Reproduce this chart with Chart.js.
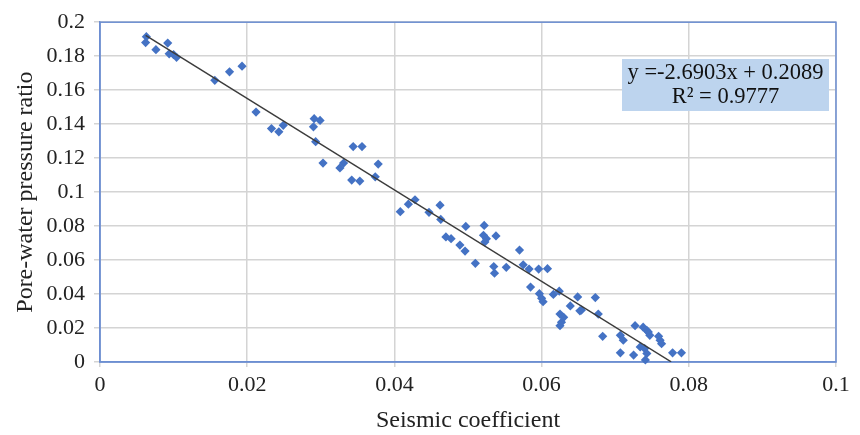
<!DOCTYPE html>
<html>
<head>
<meta charset="utf-8">
<script src="https://cdn.jsdelivr.net/npm/chart.js@4"></script>
<style>
  body { margin: 0; background: #fff; }
  #wrap { width: 860px; height: 435px; }
</style>
</head>
<body>
<div id="wrap"><canvas id="statChart" width="860" height="435"></canvas></div>
<script>
// seismic coefficient (x) and pore-water pressure ratio (y)
const seismicCoef = [
  0.0063, 0.0062, 0.0076, 0.0092, 0.0094, 0.0100, 0.0104, 0.0156, 0.0176, 0.0193, 0.0212, 0.0233, 0.0243, 0.0249,
  0.0291, 0.0299, 0.0290, 0.0293, 0.0303, 0.0326, 0.0331, 0.0344, 0.0356, 0.0342, 0.0353, 0.0374, 0.0378,
  0.0408, 0.0419, 0.0428, 0.0447, 0.0462, 0.0463, 0.0470, 0.0477, 0.0489, 0.0496, 0.0497, 0.0510, 0.0522, 0.0521,
  0.0525, 0.0523, 0.0538, 0.0535, 0.0536, 0.0552, 0.0570, 0.0575, 0.0583, 0.0596, 0.0608, 0.0585, 0.0597, 0.0600,
  0.0602, 0.0616,
  0.0624, 0.0639, 0.0625, 0.0630, 0.0627, 0.0625, 0.0649, 0.0652, 0.0654, 0.0673, 0.0677, 0.0683, 0.0707, 0.0711,
  0.0707, 0.0725, 0.0727, 0.0738, 0.0743, 0.0747, 0.0734, 0.0740, 0.0741, 0.0743, 0.0759, 0.0761, 0.0763, 0.0778,
  0.0790, 0.0745
];
const poreRatio = [
  0.1915, 0.1880, 0.1838, 0.1877, 0.1814, 0.1809, 0.1793, 0.1658, 0.1708, 0.1741, 0.1471, 0.1374, 0.1355, 0.1393,
  0.1432, 0.1422, 0.1384, 0.1297, 0.1171, 0.1142, 0.1171, 0.1268, 0.1268, 0.1071, 0.1065, 0.1090, 0.1165,
  0.0885, 0.0929, 0.0955, 0.0881, 0.0923, 0.0839, 0.0736, 0.0726, 0.0688, 0.0653, 0.0798, 0.0581, 0.0804, 0.0746,
  0.0726, 0.0707, 0.0742, 0.0562, 0.0523, 0.0557, 0.0659, 0.0572, 0.0547, 0.0547, 0.0549, 0.0441, 0.0402, 0.0375,
  0.0355, 0.0398,
  0.0417, 0.0330, 0.0282, 0.0263, 0.0234, 0.0214, 0.0383, 0.0301, 0.0305, 0.0379, 0.0282, 0.0151, 0.0157, 0.0128,
  0.0054, 0.0041, 0.0214, 0.0205, 0.0186, 0.0157, 0.0089, 0.0079, 0.0012, 0.0050, 0.0151, 0.0128, 0.0108, 0.0054,
  0.0054, 0.0176
];

// linear trendline as printed on the chart, drawn between these x ends
const trendSlope = -2.6903;
const trendIntercept = 0.2089;
const trendRange = [0.0062, 0.0776];
const trendLabel = ["y =-2.6903x + 0.2089", "R\u00b2 = 0.9777"];

const xTitle = "Seismic coefficient";
const yTitle = "Pore-water pressure ratio";

const points = seismicCoef.map((x, i) => ({ x: x, y: poreRatio[i] }));
const trendPoints = trendRange.map((x) => ({ x: x, y: trendSlope * x + trendIntercept }));

const serif = "'Liberation Serif', 'Times New Roman', serif";
const blueBorder = "#6d8fd2";

// frame on all four sides + the equation box
const framePlugin = {
  id: "frame",
  beforeDatasetsDraw(chart) {
    const a = chart.chartArea;
    const ctx = chart.ctx;
    ctx.save();
    ctx.strokeStyle = blueBorder;
    ctx.lineWidth = 1.5;
    ctx.strokeRect(a.left, a.top, a.right - a.left, a.bottom - a.top);
    ctx.restore();
  },
  afterDraw(chart) {
    const ctx = chart.ctx;
    ctx.save();
    ctx.fillStyle = "#bdd4ee";
    ctx.fillRect(622, 59, 207, 52);
    ctx.fillStyle = "#111";
    ctx.font = "22.5px " + serif;
    ctx.textAlign = "center";
    ctx.textBaseline = "middle";
    ctx.fillText(trendLabel[0], 725.5, 73);
    ctx.fillText(trendLabel[1], 725.5, 97);
    ctx.restore();
  }
};

const fmt = (v) => String(parseFloat(v.toFixed(2)));

const ctx = document.querySelector("#statChart").getContext("2d");
const chart = new Chart(ctx, {
  type: "scatter",
  data: {
    datasets: [
      {
        type: "line",
        label: "Linear trend",
        data: trendPoints,
        borderColor: "#3c3c3c",
        borderWidth: 1.5,
        pointRadius: 0,
        fill: false,
        order: 0,
      },
      {
        label: "Data",
        data: points,
        pointStyle: "rectRot",
        pointRadius: 4.6,
        backgroundColor: "#4472c4",
        borderColor: "#4472c4",
        borderWidth: 0,
        clip: false,
        order: 1,
      },
    ],
  },
  plugins: [framePlugin],
  options: {
    responsive: false,
    animation: false,
    layout: {
      padding: { left: 0, right: 24, top: 17, bottom: 0 },
    },
    plugins: {
      legend: { display: false },
      tooltip: { enabled: false },
    },
    scales: {
      x: {
        type: "linear",
        min: 0,
        max: 0.1,
        afterFit: (scale) => { scale.height = 73; },
        ticks: {
          stepSize: 0.02,
          callback: fmt,
          color: "#222",
          padding: 5,
          maxRotation: 0,
          font: { family: serif, size: 22 },
        },
        grid: { color: "#d4d4d4", lineWidth: 1.5, tickLength: 5 },
        border: { color: blueBorder, width: 1.5 },
        title: {
          display: true,
          text: xTitle,
          color: "#222",
          padding: { top: 0, bottom: 0 },
          font: { family: serif, size: 24 },
        },
      },
      y: {
        type: "linear",
        min: 0,
        max: 0.2,
        afterFit: (scale) => { scale.width = 100; },
        ticks: {
          stepSize: 0.02,
          callback: fmt,
          color: "#222",
          padding: 9,
          font: { family: serif, size: 22 },
        },
        grid: { color: "#d4d4d4", lineWidth: 1.5, tickLength: 6 },
        border: { color: blueBorder, width: 1.5 },
        title: {
          display: true,
          text: yTitle,
          color: "#222",
          padding: { top: 11, bottom: 0 },
          font: { family: serif, size: 24 },
        },
      },
    },
  },
});
</script>
</body>
</html>
